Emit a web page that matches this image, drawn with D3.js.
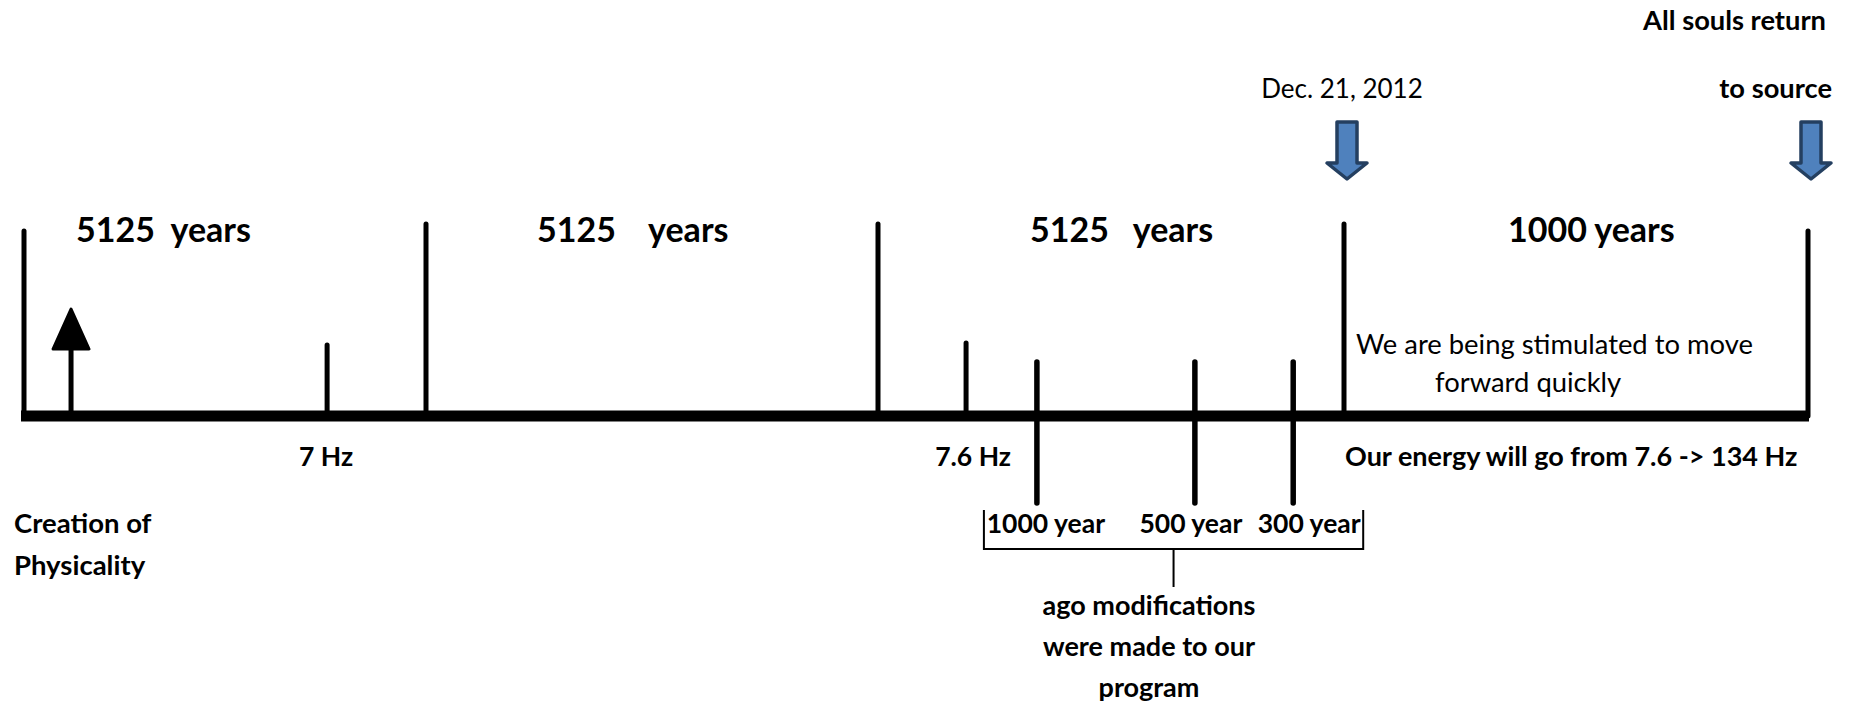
<!DOCTYPE html>
<html>
<head>
<meta charset="utf-8">
<script src="https://cdn.jsdelivr.net/npm/d3@7"></script>
<style>
  body { margin: 0; background: #fff; }
  text { font-family: Lato, "Open Sans", sans-serif; fill: #000; white-space: pre; }
  .b { font-weight: 700; }
</style>
</head>
<body>
<svg width="1852" height="704"></svg>
<script>
// timeline in "era units": 0..4 are the era boundaries
var boundaries = [0, 1, 2, 3, 4];
var eraLabels = ["5125  years", "5125    years", "5125   years", "1000 years"];

// frequency ticks
var hzAt = [0.754, 2.189];
var hzLabels = ["7 Hz", "7.6 Hz"];

// "years ago" modification marks
var agoAt = [2.341, 2.680, 2.891];
var agoLabels = ["1000 year", "500 year", "300 year"];

// blue markers: Dec. 21, 2012 and the return to source
var markerAt = [3, 4];

var creationAt = 0.117;

var svg = d3.select("svg");

var x = d3.scaleLinear()
    .domain(boundaries)
    .range([24, 426, 878, 1344, 1808]);

var axisY = 416;

// main timeline bar
svg.append("line")
    .attr("x1", x(0) - 3).attr("x2", x(4) + 1)
    .attr("y1", axisY).attr("y2", axisY)
    .attr("stroke", "#000").attr("stroke-width", 11);

// era boundaries
svg.selectAll(".era")
  .data(boundaries)
  .enter().append("line")
    .attr("class", "era")
    .attr("x1", function(d) { return x(d); })
    .attr("x2", function(d) { return x(d); })
    .attr("y1", function(d, i) { return (i == 0 || i == boundaries.length - 1) ? 231 : 224; })
    .attr("y2", axisY)
    .attr("stroke", "#000").attr("stroke-width", 5).attr("stroke-linecap", "round");

var eraDx = [52, 111, 152, 164];
svg.selectAll(".eraLabel")
  .data(eraLabels)
  .enter().append("text")
    .attr("class", "eraLabel b")
    .attr("x", function(d, i) { return x(boundaries[i]) + eraDx[i]; })
    .attr("y", 242)
    .style("font-size", "34px")
    .text(function(d) { return d; });

// Hz ticks
svg.selectAll(".hz")
  .data(hzAt)
  .enter().append("line")
    .attr("x1", function(d) { return x(d); })
    .attr("x2", function(d) { return x(d); })
    .attr("y1", function(d, i) { return i == 0 ? 345 : 343; })
    .attr("y2", axisY)
    .attr("stroke", "#000").attr("stroke-width", 5).attr("stroke-linecap", "round");

svg.selectAll(".hzLabel")
  .data(hzLabels)
  .enter().append("text")
    .attr("class", "b")
    .attr("x", function(d, i) { return x(hzAt[i]) + (i == 0 ? -1 : 7); })
    .attr("y", 466)
    .attr("text-anchor", "middle")
    .style("font-size", "26.5px")
    .text(function(d) { return d; });

// ago marks crossing the bar
svg.selectAll(".ago")
  .data(agoAt)
  .enter().append("line")
    .attr("x1", function(d) { return x(d); })
    .attr("x2", function(d) { return x(d); })
    .attr("y1", 362).attr("y2", 503)
    .attr("stroke", "#000").attr("stroke-width", 5.5).attr("stroke-linecap", "round");

var agoDx = [9, -4, 16];
svg.selectAll(".agoLabel")
  .data(agoLabels)
  .enter().append("text")
    .attr("class", "b")
    .attr("x", function(d, i) { return x(agoAt[i]) + agoDx[i]; })
    .attr("y", 533)
    .attr("text-anchor", "middle")
    .style("font-size", "26.5px")
    .text(function(d) { return d; });

// bracket under the ago labels
var bl = x(agoAt[0]) - 53, br = x(agoAt[2]) + 70, bm = (bl + br) / 2;
svg.append("path")
    .attr("d", "M" + bl + ",510V549H" + br + "V510M" + bm + ",549V587")
    .attr("fill", "none").attr("stroke", "#000").attr("stroke-width", 2);

var agoNote = ["ago modifications", "were made to our", "program"];
svg.selectAll(".note")
  .data(agoNote)
  .enter().append("text")
    .attr("class", "b")
    .attr("x", 1149)
    .attr("y", function(d, i) { return 615 + i * 41; })
    .attr("text-anchor", "middle")
    .style("font-size", "27px")
    .text(function(d) { return d; });

// creation of physicality arrow
var cx = x(creationAt);
svg.append("line")
    .attr("x1", cx).attr("x2", cx).attr("y1", 348).attr("y2", axisY - 4)
    .attr("stroke", "#000").attr("stroke-width", 5);
svg.append("path")
    .attr("d", "M" + cx + ",309L" + (cx + 18) + ",349H" + (cx - 18) + "Z")
    .attr("fill", "#000").attr("stroke", "#000").attr("stroke-width", 3).attr("stroke-linejoin", "round");

svg.selectAll(".creation")
  .data(["Creation of", "Physicality"])
  .enter().append("text")
    .attr("class", "b")
    .attr("x", 14)
    .attr("y", function(d, i) { return 533 + i * 42; })
    .style("font-size", "27.5px")
    .text(function(d) { return d; });

// blue down arrows
svg.selectAll(".marker")
  .data(markerAt)
  .enter().append("path")
    .attr("transform", function(d) { return "translate(" + (x(d) + 3) + ",0)"; })
    .attr("d", "M-10,122H10V163H20L0,179L-20,163H-10Z")
    .attr("fill", "#4F81BD").attr("stroke", "#243F60").attr("stroke-width", 3.5).attr("stroke-linejoin", "round");

svg.append("text")
    .attr("x", 1342).attr("y", 98)
    .attr("text-anchor", "middle")
    .style("font-size", "26px")
    .text("Dec. 21, 2012");

svg.append("text").attr("class", "b")
    .attr("x", 1643).attr("y", 30)
    .style("font-size", "27.3px")
    .text("All souls return");
svg.append("text").attr("class", "b")
    .attr("x", 1832).attr("y", 98)
    .attr("text-anchor", "end")
    .style("font-size", "27.3px")
    .text("to source");

svg.append("text").attr("class", "b")
    .attr("x", x(3) + 1).attr("y", 466)
    .style("font-size", "27px")
    .text("Our energy will go from 7.6 -> 134 Hz");

svg.selectAll(".stim")
  .data(["We are being stimulated to move", "forward quickly"])
  .enter().append("text")
    .attr("x", function(d, i) { return i == 0 ? 1356 : 1435; })
    .attr("y", function(d, i) { return 354 + i * 38; })
    .style("font-size", "27.4px")
    .text(function(d) { return d; });
</script>
</body>
</html>
